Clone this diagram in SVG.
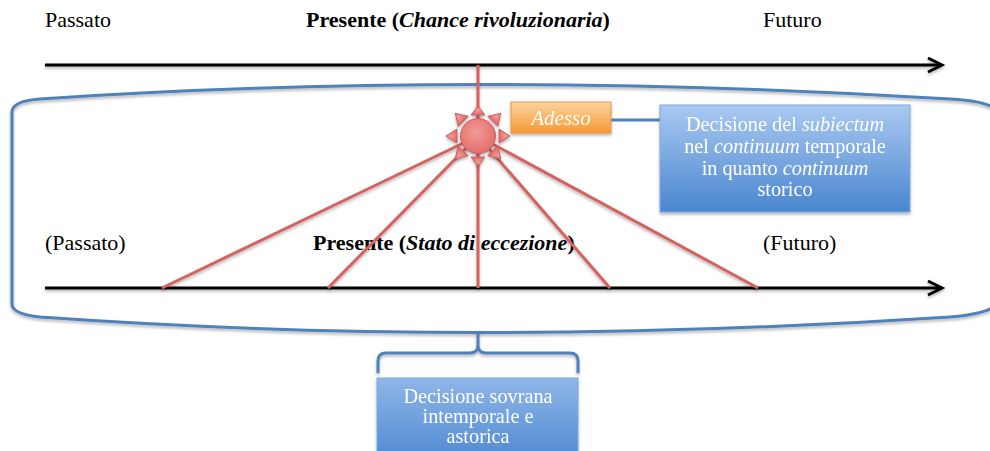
<svg xmlns="http://www.w3.org/2000/svg" width="990" height="451" viewBox="0 0 990 451">
<defs>
<linearGradient id="gBlue" x1="0" y1="0" x2="0" y2="1">
<stop offset="0" stop-color="#a9c9f1"/>
<stop offset="1" stop-color="#4a86cf"/>
</linearGradient>
<linearGradient id="gBlue2" x1="0" y1="0" x2="0" y2="1">
<stop offset="0" stop-color="#8fb6e8"/>
<stop offset="1" stop-color="#4a86cf"/>
</linearGradient>
<linearGradient id="gOrange" x1="0" y1="0" x2="0" y2="1">
<stop offset="0" stop-color="#fcd39e"/>
<stop offset="1" stop-color="#f59a34"/>
</linearGradient>
<radialGradient id="gSun" cx="0.45" cy="0.4" r="0.6">
<stop offset="0" stop-color="#f19a97"/>
<stop offset="1" stop-color="#e46f6b"/>
</radialGradient>
<filter id="sh" x="-10%" y="-10%" width="120%" height="130%">
<feDropShadow dx="0" dy="2" stdDeviation="1.5" flood-color="#000" flood-opacity="0.3"/>
</filter>
</defs>
<style>
.t{font-family:"Liberation Serif","Times New Roman",serif;font-size:22px;fill:#000}
.b{font-weight:bold}
.i{font-style:italic}
.w{font-family:"Liberation Serif","Times New Roman",serif;font-size:20.3px;fill:#fff;text-anchor:middle}
.axis{stroke:#000;stroke-width:3;fill:none}
.ray{stroke:#d6625f;stroke-width:3;fill:none}
.blue{stroke:#4f81bd;stroke-width:3;fill:none}
</style>

<g id="labels">
<text class="t" x="45" y="27">Passato</text>
<text class="t b" x="306" y="27">Presente (<tspan class="i">Chance rivoluzionaria</tspan>)</text>
<text class="t" x="763" y="27">Futuro</text>
<text class="t" x="45" y="250">(Passato)</text>
<text class="t b" x="313" y="250">Presente (<tspan class="i">Stato di eccezione</tspan>)</text>
<text class="t" x="763" y="250">(Futuro)</text>
</g>

<g id="bracket" filter="url(#sh)">
<path class="blue" d="M 1000,112 Q 990,101 950,99 Q 478,70 40,99 Q 12,101 12,112 L 12,304 Q 12,314 40,317 Q 478,348 950,317 Q 990,314 1000,302"/>
</g>

<g id="connectors">
<g filter="url(#sh)">
<line class="axis" x1="45" y1="65" x2="941" y2="65"/>
<polyline class="axis" points="928,58 942,65 928,72"/>
<line class="axis" x1="45" y1="288" x2="941" y2="288"/>
<polyline class="axis" points="928,281 942,288 928,295"/>
</g>
<g filter="url(#sh)">
<line class="ray" x1="478" y1="65" x2="478" y2="288"/>
<line class="ray" x1="478" y1="136" x2="162" y2="288"/>
<line class="ray" x1="478" y1="136" x2="328" y2="288"/>
<line class="ray" x1="478" y1="136" x2="610" y2="288"/>
<line class="ray" x1="478" y1="136" x2="758" y2="288"/>
</g>
<line class="blue" x1="611" y1="120" x2="660" y2="120" stroke-width="2.5"/>
<path class="blue" filter="url(#sh)" d="M 378,373 L 378,361 Q 378,353 386,353 L 470,353 Q 478,353 478,345 L 478,332 M 478,345 Q 478,353 486,353 L 570,353 Q 578,353 578,361 L 578,373"/>
</g>

<g id="sun" filter="url(#sh)" fill="url(#gSun)" stroke="#c9605c" stroke-width="1">
<g transform="translate(478,136)">
<polygon points="-7,-21 7,-21 0,-30" transform="rotate(0)"/>
<polygon points="-7,-21 7,-21 0,-32" transform="rotate(45)"/>
<polygon points="-7,-21 7,-21 0,-32" transform="rotate(90)"/>
<polygon points="-7,-21 7,-21 0,-32" transform="rotate(135)"/>
<polygon points="-7,-21 7,-21 0,-30" transform="rotate(180)"/>
<polygon points="-7,-21 7,-21 0,-32" transform="rotate(225)"/>
<polygon points="-7,-21 7,-21 0,-32" transform="rotate(270)"/>
<polygon points="-7,-21 7,-21 0,-32" transform="rotate(315)"/>
<circle cx="0" cy="0" r="17.5"/>
</g>
</g>

<g id="adesso" filter="url(#sh)">
<rect x="511" y="102" width="100" height="31" fill="url(#gOrange)" stroke="#e59a4a" stroke-width="1"/>
<text x="561" y="125" font-family="'Liberation Serif','Times New Roman',serif" font-size="21" font-style="italic" fill="#fff" text-anchor="middle">Adesso</text>
</g>

<g id="box-subiectum" filter="url(#sh)">
<rect x="660" y="105" width="250" height="107" fill="url(#gBlue)" stroke="#7ea9dd" stroke-width="1"/>
<text class="w" x="785" y="131">Decisione del <tspan font-style="italic">subiectum</tspan></text>
<text class="w" x="785" y="153">nel <tspan font-style="italic">continuum</tspan> temporale</text>
<text class="w" x="785" y="175">in quanto <tspan font-style="italic">continuum</tspan></text>
<text class="w" x="785" y="196">storico</text>
</g>

<g id="box-sovrana" filter="url(#sh)">
<rect x="377" y="378" width="201" height="90" fill="url(#gBlue2)" stroke="#7ea9dd" stroke-width="1"/>
<text class="w" x="478" y="403">Decisione sovrana</text>
<text class="w" x="478" y="423">intemporale e</text>
<text class="w" x="478" y="443">astorica</text>
</g>
</svg>
